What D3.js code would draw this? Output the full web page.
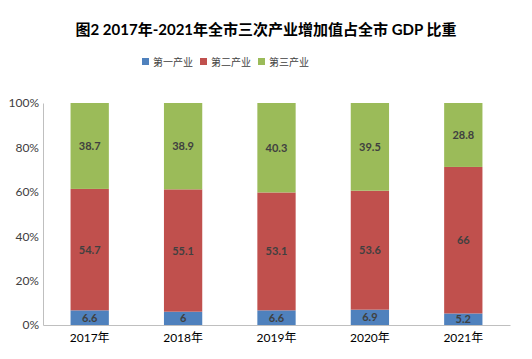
<!DOCTYPE html>
<html><head><meta charset="utf-8">
<script src="https://cdn.jsdelivr.net/npm/d3@7"></script>
<style>body{margin:0;background:#fff;} text{font-family:Lato,"Noto Sans CJK SC",sans-serif;}</style>
</head><body>
<svg id="c" width="532" height="359"></svg>
<script>
const title = "图2  2017年-2021年全市三次产业增加值占全市 GDP 比重";
const categories = ["2017年","2018年","2019年","2020年","2021年"];
const seriesNames = ["第一产业","第二产业","第三产业"];
const primary = [6.6, 6, 6.6, 6.9, 5.2];
const secondary = [54.7, 55.1, 53.1, 53.6, 66];
const tertiary = [38.7, 38.9, 40.3, 39.5, 28.8];
const yTicks = [0, 20, 40, 60, 80, 100];
const colors = ["#4F81BD", "#C0504D", "#9BBB59"];

const svg = d3.select("#c");
const m = {l:43, r:510, t:103, b:325};
const x = d3.scaleBand().domain(categories).range([m.l, m.r]).paddingInner(0.59).paddingOuter(0.295);
const y = d3.scaleLinear().domain([0,100]).range([m.b, m.t]);

svg.append("text").attr("x",266).attr("y",35).attr("text-anchor","middle")
  .attr("font-size",15).attr("font-weight","bold").attr("fill","#000").text(title);

// legend
const lx = [142, 200, 258];
seriesNames.forEach((n,i)=>{
  const g = svg.append("g").attr("transform",`translate(${lx[i]},58)`);
  g.append("rect").attr("width",7).attr("height",7).attr("fill",colors[i]);
  g.append("text").attr("x",11).attr("y",7.5).attr("font-size",10).attr("fill","#404040").text(n);
});

const rows = categories.map((c,i)=>({cat:c, a:primary[i], b:secondary[i], c:tertiary[i]}));
const stack = d3.stack().keys(["a","b","c"])(rows);

stack.forEach((layer,li)=>{
  svg.append("g").selectAll("rect").data(layer).join("rect")
    .attr("x", d=>x(d.data.cat)).attr("width", x.bandwidth())
    .attr("y", d=>y(d[1])).attr("height", d=>y(d[0])-y(d[1]))
    .attr("fill", colors[li]);
  svg.append("g").selectAll("text").data(layer).join("text")
    .attr("x", d=>x(d.data.cat)+x.bandwidth()/2)
    .attr("y", d=>(y(d[0])+y(d[1]))/2+4)
    .attr("text-anchor","middle").attr("font-size",11).attr("font-weight","bold")
    .attr("fill","#404040").text(d=>d[1]-d[0] ? +(d[1]-d[0]).toFixed(1) : "");
});

// axes
const yAxis = svg.append("g").attr("transform",`translate(${m.l},0)`)
  .call(d3.axisLeft(y).tickValues(yTicks).tickFormat(d=>d+"%").tickSize(0).tickPadding(4));
yAxis.select(".domain").attr("stroke","#bfbfbf");
yAxis.selectAll("text").attr("font-size",12).attr("fill","#404040").attr("font-family",'Lato,"Noto Sans CJK SC",sans-serif');

const xAxis = svg.append("g").attr("transform",`translate(0,${m.b})`)
  .call(d3.axisBottom(x).tickSize(0).tickPadding(8));
xAxis.select(".domain").attr("stroke","#bfbfbf");
xAxis.selectAll("text").attr("font-size",12).attr("fill","#000").attr("font-family",'Lato,"Noto Sans CJK SC",sans-serif');
</script>
</body></html>
